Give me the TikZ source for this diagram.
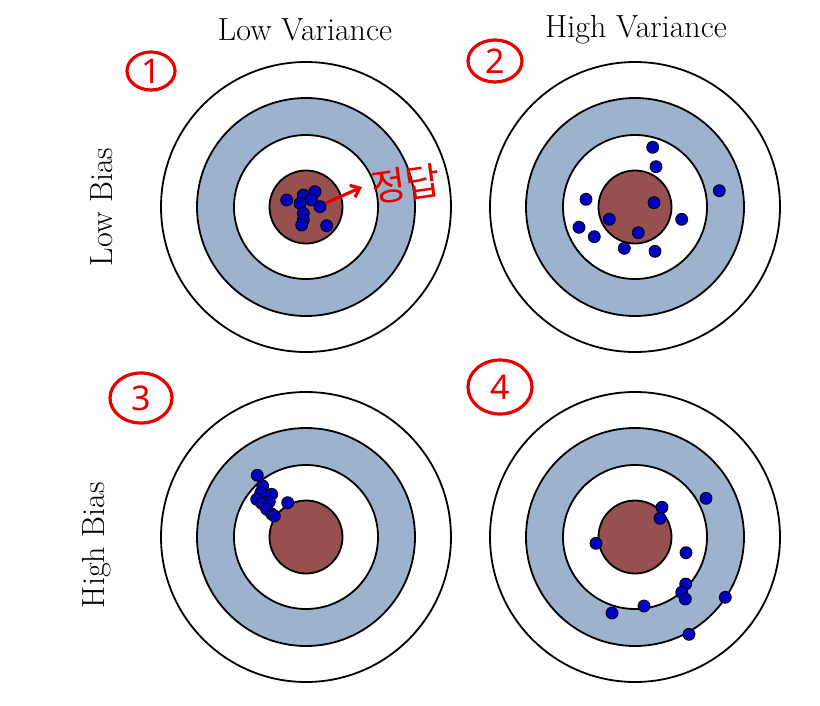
\documentclass[tikz,border=0pt]{standalone}
\usepackage{fontspec}
\newfontfamily\kofont{Noto Sans CJK KR}
\newfontfamily\handfont{Noto Sans}
\usetikzlibrary{arrows.meta,shapes.geometric}
\definecolor{ringblue}{RGB}{156,178,205}
\definecolor{bullred}{RGB}{150,80,80}
\definecolor{dotblue}{RGB}{0,0,190}
\definecolor{pen}{RGB}{232,0,0}
\begin{document}
\begin{tikzpicture}[x=1pt,y=-1pt,
  ring/.style={draw=black,line width=1.8pt},
  dot/.style={circle,draw=black,fill=dotblue,line width=0.8pt,inner sep=0pt,minimum size=12pt},
  head/.style={font=\fontsize{32}{36}\selectfont,text=black,inner sep=0pt},
  numc/.style={ellipse,draw=pen,line width=3.2pt,text=pen,inner sep=0pt,font=\handfont\bfseries\fontsize{34}{34}\selectfont}]
\useasboundingbox[fill=white] (0,0) rectangle (820,705);
% targets
\foreach \cx/\cy in {306/207,635/207,306/537,635/537}{
  \draw[ring,fill=white] (\cx,\cy) circle[radius=145];
  \draw[ring,fill=ringblue] (\cx,\cy) circle[radius=109];
  \draw[ring,fill=white] (\cx,\cy) circle[radius=72];
  \draw[ring,fill=bullred] (\cx,\cy) circle[radius=36.5];
}
% headings
\node[head] (lv) at (305,30) {Low Variance};
\node[head] (hv) at (636,30) {High Variance};
\node[head,rotate=90] (lb) at (102,207) {Low Bias};
\node[head,rotate=90] (hb) at (97,545) {High Bias};
% dots quadrant 1
\foreach \x/\y [count=\i] in {286.7/200,303.3/195,315/191.7,311.7/200,300/203.3,320/206.7,303.3/213.3,303.3/220,301.7/225,326.7/225.7}
  \node[dot] (p\i) at (\x,\y) {};
% dots quadrant 2
\foreach \x/\y [count=\i] in {652.7/147.3,656/166.7,719.3/190.7,586/199.3,654/202.7,609.3/219.3,681.7/219.3,579/227.3,594.3/236.7,638.3/232.7,624.3/248.3,655/251.3}
  \node[dot] (q\i) at (\x,\y) {};
% dots quadrant 3
\foreach \x/\y [count=\i] in {257.3/475.3,262.7/486,260.7/492.7,271.7/494.3,256.7/499.3,269.3/501.7,261.7/503.3,266.7/509.3,271.7/514,274.3/516,287.7/502.7}
  \node[dot] (r\i) at (\x,\y) {};
% dots quadrant 4
\foreach \x/\y [count=\i] in {706/498.3,662/507.3,660/518.3,596/543.3,686/552.7,685.7/584,681.7/592.3,685.3/599,725.3/597.3,644/606,612/613,689/634.3}
  \node[dot] (s\i) at (\x,\y) {};
% handwritten annotations
\node[numc,minimum width=48pt,minimum height=38pt] (n1) at (151,71) {1};
\node[numc,minimum width=54pt,minimum height=42pt] (n2) at (495,61) {2};
\node[numc,minimum width=62pt,minimum height=50pt] (n3) at (141,398) {3};
\node[numc,minimum width=64pt,minimum height=54pt] (n4) at (500,387) {4};
\coordinate (arrS) at (326,203);
\coordinate (arrE) at (362,187);
\draw[pen,line width=3.2pt,line cap=round,-{Straight Barb[length=8pt,width=13pt]}] (arrS) -- (arrE);
\node[text=pen,font=\kofont\fontsize{38}{38}\selectfont,rotate=8,inner sep=0pt] (ans) at (406,184) {정답};
\end{tikzpicture}
\end{document}
